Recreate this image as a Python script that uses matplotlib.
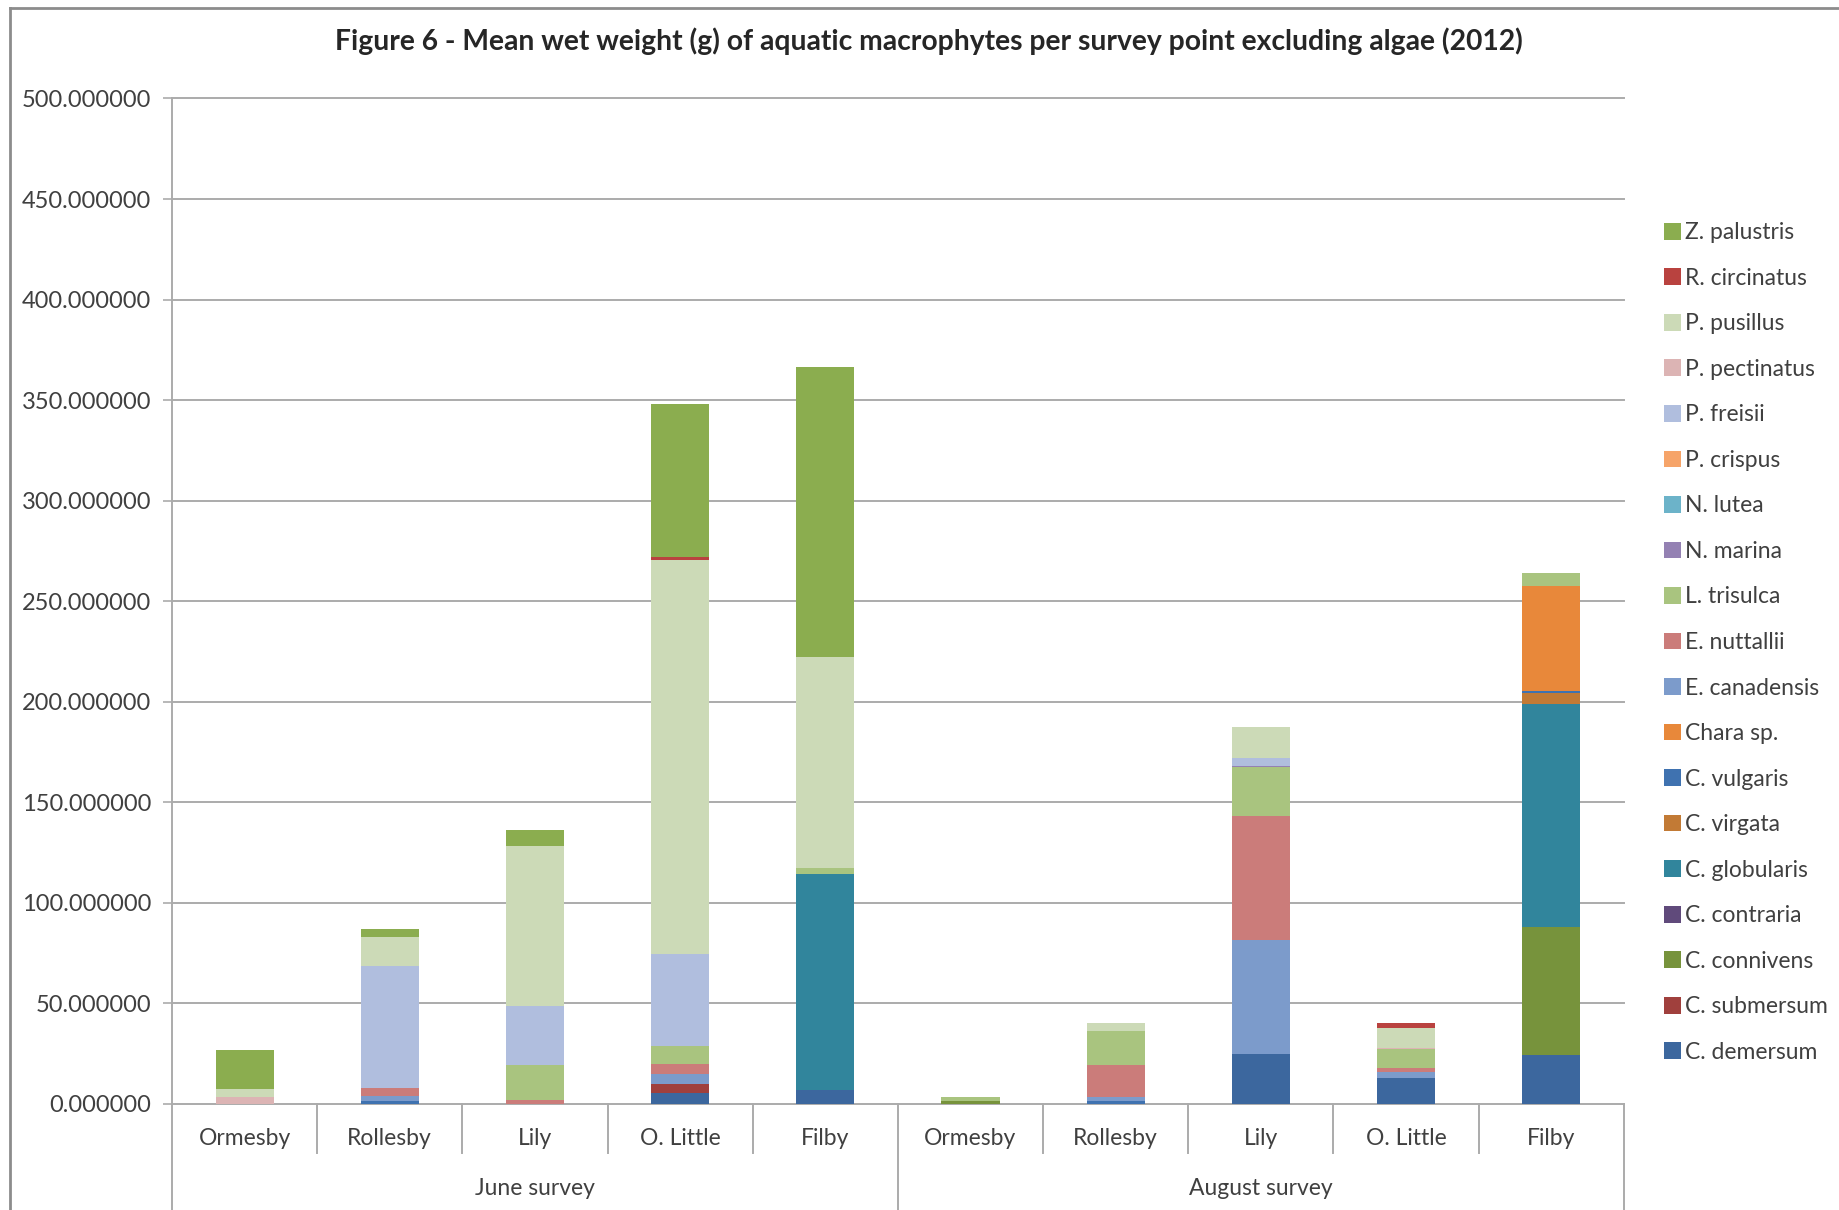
import numpy as np
import matplotlib
matplotlib.use('Agg')
import matplotlib.pyplot as plt
from matplotlib.lines import Line2D
from matplotlib.ticker import FormatStrFormatter

plt.rcParams['font.family'] = ['Lato', 'DejaVu Sans']

# sites and survey groups
sites = ['Ormesby', 'Rollesby', 'Lily', 'O. Little', 'Filby',
         'Ormesby', 'Rollesby', 'Lily', 'O. Little', 'Filby']
surveys = ['June survey', 'August survey']

# mean wet weight (g) per species, June sites then August sites
c_demersum = [0, 0, 0, 5.3, 6.6, 0, 0, 24.9, 12.9, 24.2]
c_submersum = [0, 0, 0, 4.6, 0, 0, 0, 0, 0, 0]
c_connivens = [0, 0, 0, 0, 0, 1.3, 0, 0, 0, 63.8]
c_contraria = [0, 0, 0, 0, 0, 0, 0, 0, 0, 0]
c_globularis = [0, 0, 0, 0, 107.8, 0, 0, 0, 0, 110.8]
c_virgata = [0, 0, 0, 0, 0, 0, 0, 0, 0, 5.5]
c_vulgaris = [0, 1.5, 0, 0, 0, 0, 1.5, 0, 0, 1.0]
chara_sp = [0, 0, 0, 0, 0, 0, 0, 0, 0, 52.2]
e_canadensis = [0, 2.1, 0, 5.0, 0, 0, 2.0, 56.7, 2.8, 0]
e_nuttallii = [0, 4.1, 2.0, 5.0, 0, 0, 15.6, 61.4, 2.2, 0]
l_trisulca = [0, 0, 17.4, 9.0, 3.0, 2.0, 16.8, 24.5, 9.1, 6.3]
n_marina = [0, 0, 0, 0, 0, 0, 0, 0.7, 0, 0]
n_lutea = [0, 0, 0, 0, 0, 0, 0, 0, 0, 0]
p_crispus = [0, 0, 0, 0, 0, 0, 0, 0, 0, 0]
p_freisii = [0, 60.8, 29.4, 45.3, 0, 0, 0, 3.8, 0, 0]
p_pectinatus = [3.5, 0, 0, 0, 0, 0, 0, 0, 0.8, 0]
p_pusillus = [3.7, 14.6, 79.6, 196.0, 104.9, 0, 4.1, 15.3, 10.0, 0]
r_circinatus = [0, 0, 0, 1.5, 0, 0, 0, 0, 2.2, 0]
z_palustris = [19.5, 3.6, 7.6, 76.5, 144.1, 0, 0, 0, 0, 0]

# stacking order, bottom first
species = [
    ('C. demersum', c_demersum, '#3C679E'),
    ('C. submersum', c_submersum, '#A0403D'),
    ('C. connivens', c_connivens, '#77933C'),
    ('C. contraria', c_contraria, '#604A7B'),
    ('C. globularis', c_globularis, '#31859C'),
    ('C. virgata', c_virgata, '#C27A35'),
    ('C. vulgaris', c_vulgaris, '#3F72B0'),
    ('Chara sp.', chara_sp, '#E8883A'),
    ('E. canadensis', e_canadensis, '#7C9BCB'),
    ('E. nuttallii', e_nuttallii, '#CB7C7A'),
    ('L. trisulca', l_trisulca, '#A9C47F'),
    ('N. marina', n_marina, '#9481B3'),
    ('N. lutea', n_lutea, '#6CB3C9'),
    ('P. crispus', p_crispus, '#F6A469'),
    ('P. freisii', p_freisii, '#B0BEDE'),
    ('P. pectinatus', p_pectinatus, '#DCB4B4'),
    ('P. pusillus', p_pusillus, '#CCDAB7'),
    ('R. circinatus', r_circinatus, '#B9423F'),
    ('Z. palustris', z_palustris, '#8BAD4F'),
]

grey = '#ABABAB'
txt = '#404040'

fig = plt.figure(figsize=(18.39, 12.10), dpi=100)
ax = fig.add_axes([0.0935, 0.0879, 0.7895, 0.8307])

x = np.arange(len(sites))
bottom = np.zeros(len(sites))
handles = []
for name, vals, col in species:
    vals = np.array(vals, dtype=float)
    b = ax.bar(x, vals, 0.4, bottom=bottom, color=col, label=name, zorder=3)
    handles.append(b)
    bottom += vals

# y axis
ax.set_ylim(0, 500)
ax.set_xlim(-0.5, len(sites) - 0.5)
yt = np.arange(0, 501, 50)
ax.set_yticks(yt)
ax.yaxis.set_major_formatter(FormatStrFormatter('%.6f'))
for v in yt[1:]:
    ax.axhline(v, color=grey, lw=1.4, zorder=0, clip_on=False)
ax.tick_params(axis='y', direction='out', length=6.5, width=1.2, color=grey,
               pad=8.5, labelsize=17, labelcolor=txt)
ax.tick_params(axis='x', length=0, labelbottom=False)
for s in ['top', 'right']:
    ax.spines[s].set_visible(False)
for s in ['left', 'bottom']:
    ax.spines[s].set_color(grey)
    ax.spines[s].set_linewidth(1.4)

# two-level category axis
tr = ax.get_xaxis_transform()
for k in range(len(sites) + 1):
    xb = k - 0.5
    end = -0.106 if k % 5 == 0 else -0.049
    ax.plot([xb, xb], [0, end], transform=tr, color=grey, lw=1.4, clip_on=False)
for i, s in enumerate(sites):
    ax.text(i, -0.035, s, transform=tr, ha='center', va='center',
            fontsize=16.5, color=txt)
for g, s in enumerate(surveys):
    ax.text(g * 5 + 2, -0.084, s, transform=tr, ha='center', va='center',
            fontsize=16.5, color=txt)

ax.legend(handles[::-1], [h.get_label() for h in handles[::-1]],
          loc='center left', bbox_to_anchor=(0.905, 0.469),
          bbox_transform=fig.transFigure, frameon=False,
          fontsize=16.5, handlelength=0.75, handleheight=0.75,
          handletextpad=0.15, labelspacing=1.07, borderpad=0,
          borderaxespad=0, labelcolor=txt)

fig.text(0.505, 0.966, 'Figure 6 - Mean wet weight (g) of aquatic macrophytes per survey point excluding algae (2012)',
         ha='center', va='center', fontsize=20.3, fontweight='bold', color='#262626')

# chart frame
fig.add_artist(Line2D([10 / 1839, 10 / 1839], [0, 1 - 8 / 1210], color='#8C8C8C', lw=2))
fig.add_artist(Line2D([10 / 1839, 1], [1 - 8 / 1210, 1 - 8 / 1210], color='#8C8C8C', lw=2))

fig.savefig('out.png', dpi=100)
